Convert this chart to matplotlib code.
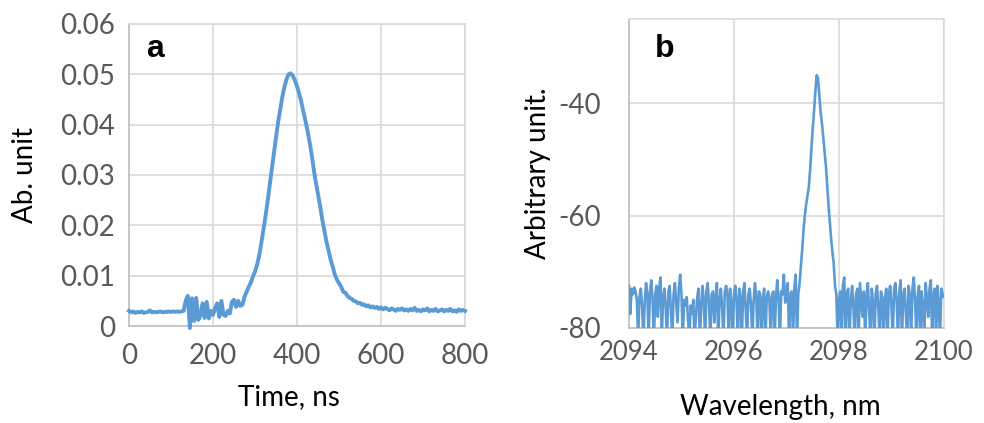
import numpy as np
import matplotlib.pyplot as plt

# panel a: time trace (ns, ab. unit), read at 5 ns steps
time_ns = list(range(0, 805, 5))
pulse = [
    0.0030, 0.0027, 0.0029, 0.0026, 0.0028, 0.0027, 0.0029, 0.0026, 0.0027, 0.0028,
    0.0031, 0.0027, 0.0028, 0.0027, 0.0028, 0.0029, 0.0027, 0.0028, 0.0028, 0.0029,
    0.0028, 0.0029, 0.0028, 0.0029, 0.0028, 0.0029, 0.0030, 0.0050, 0.0060, -0.0004,
    0.0055, 0.0010, 0.0056, 0.0012, 0.0020, 0.0045, 0.0016, 0.0048, 0.0015, 0.0030,
    0.0022, 0.0036, 0.0045, 0.0018, 0.0050, 0.0022, 0.0020, 0.0030, 0.0025, 0.0048,
    0.0052, 0.0038, 0.0050, 0.0040, 0.0042, 0.0058, 0.0068, 0.0078, 0.0086, 0.0098,
    0.0108, 0.0122, 0.0140, 0.0165, 0.0192, 0.0218, 0.0248, 0.0280, 0.0312, 0.0345,
    0.0375, 0.0405, 0.0430, 0.0455, 0.0475, 0.0490, 0.0500, 0.0502, 0.0497, 0.0488,
    0.0476, 0.0462, 0.0446, 0.0426, 0.0408, 0.0388, 0.0365, 0.0340, 0.0310, 0.0285,
    0.0262, 0.0238, 0.0212, 0.0190, 0.0168, 0.0150, 0.0132, 0.0118, 0.0102, 0.0092,
    0.0085, 0.0078, 0.0068, 0.0066, 0.0060, 0.0056, 0.0054, 0.0050, 0.0049, 0.0045,
    0.0046, 0.0042, 0.0043, 0.0039, 0.0041, 0.0037, 0.0039, 0.0036, 0.0038, 0.0034,
    0.0037, 0.0033, 0.0036, 0.0034, 0.0031, 0.0035, 0.0033, 0.0030, 0.0034, 0.0032,
    0.0035, 0.0031, 0.0033, 0.0030, 0.0034, 0.0031, 0.0036, 0.0030, 0.0032, 0.0029,
    0.0033, 0.0031, 0.0035, 0.0029, 0.0032, 0.0030, 0.0034, 0.0029, 0.0031, 0.0033,
    0.0029, 0.0032, 0.0030, 0.0034, 0.0029, 0.0031, 0.0028, 0.0033, 0.0030, 0.0032,
    0.0030,
]

# panel b: spectrum, 0.025 nm steps from 2094 to 2100
wl_start, wl_step = 2094.0, 0.025
spec_2094 = [-72.5, -77.5, -73.0, -74.0, -72.8, -73.5, -75.0, -82.0, -74.5, -73.0,
             -76.0, -82.0, -75.5, -72.0, -74.0, -82.0, -73.5, -71.5, -75.0, -82.0,
             -74.0, -72.5, -78.0, -73.0, -71.0, -82.0, -74.5, -73.0, -76.5, -82.0,
             -73.5, -72.5, -77.0, -82.0, -74.0, -72.0, -75.5, -79.0, -73.0, -70.5]
spec_2095 = [-74.0, -82.0, -75.0, -76.0, -74.5, -78.5, -82.0, -76.0, -77.5, -75.0,
             -82.0, -78.0, -74.5, -73.0, -82.0, -76.5, -72.5, -75.0, -82.0, -73.5,
             -72.0, -76.0, -82.0, -74.0, -73.5, -79.0, -74.5, -72.0, -82.0, -75.0,
             -73.0, -76.5, -82.0, -73.5, -72.5, -74.0, -82.0, -73.0, -75.5, -82.0]
spec_2096 = [-74.0, -72.5, -75.5, -82.0, -73.0, -74.5, -82.0, -73.5, -72.0, -77.0,
             -82.0, -74.0, -73.0, -76.0, -82.0, -75.0, -72.0, -74.5, -82.0, -73.5,
             -74.0, -82.0, -75.0, -73.0, -82.0, -74.5, -73.5, -75.0, -82.0, -74.0,
             -73.5, -82.0, -74.5, -71.5, -75.0, -82.0, -73.5, -74.0, -70.5, -75.5]
spec_2097 = [-73.0, -72.0, -82.0, -74.0, -73.5, -82.0, -73.0, -70.5, -82.0, -74.0,
             -72.0, -69.0, -66.0, -62.5, -60.0, -58.0, -56.5, -55.0, -52.0, -48.0,
             -44.5, -41.5, -38.0, -35.0, -35.5, -38.5, -41.5, -43.5, -46.0, -48.5,
             -51.0, -54.5, -58.0, -61.0, -64.0, -66.5, -68.5, -72.5, -74.0, -82.0]
spec_2098 = [-75.0, -73.5, -82.0, -72.5, -71.0, -82.0, -74.0, -73.0, -82.0, -75.5,
             -72.5, -76.0, -82.0, -74.0, -73.0, -82.0, -72.0, -75.0, -78.0, -73.5,
             -82.0, -74.5, -72.0, -77.0, -82.0, -73.0, -75.5, -82.0, -74.0, -72.5,
             -76.5, -82.0, -73.5, -74.5, -82.0, -75.0, -73.0, -82.0, -74.0, -72.5]
spec_2099 = [-76.0, -82.0, -73.0, -72.0, -75.5, -82.0, -73.5, -71.5, -82.0, -74.0,
             -73.0, -77.5, -82.0, -72.5, -74.0, -82.0, -73.0, -71.0, -75.0, -82.0,
             -74.5, -72.5, -82.0, -73.5, -76.0, -82.0, -72.0, -74.5, -78.0, -73.0,
             -71.5, -82.0, -74.0, -73.0, -82.0, -72.5, -75.5, -82.0, -73.0, -74.5,
             -74.0]

a_xticks = [0, 200, 400, 600, 800]
a_yticks = [0, 0.01, 0.02, 0.03, 0.04, 0.05, 0.06]
a_ylabels = ['0', '0.01', '0.02', '0.03', '0.04', '0.05', '0.06']
b_xticks = [2094, 2096, 2098, 2100]
b_yticks = [-80, -60, -40]

spectrum = spec_2094 + spec_2095 + spec_2096 + spec_2097 + spec_2098 + spec_2099
wavelength = wl_start + wl_step * np.arange(len(spectrum))

blue = '#5B9BD5'
grid_c = '#D9D9D9'
axis_c = '#BFBFBF'
tick_c = '#595959'
plt.rcParams['font.family'] = ['Lato', 'DejaVu Sans']
plt.rcParams['axes.unicode_minus'] = False

fig = plt.figure(figsize=(9.84, 4.23), dpi=100)
ax1 = fig.add_axes([0.1311, 0.2293, 0.3415, 0.7140])
ax2 = fig.add_axes([0.6392, 0.2246, 0.3201, 0.7305])


def style(ax):
    ax.grid(True, color=grid_c, lw=1.2)
    ax.set_axisbelow(True)
    for s in ['top', 'right']:
        ax.spines[s].set_color(grid_c)
        ax.spines[s].set_linewidth(1.2)
    for s in ['left', 'bottom']:
        ax.spines[s].set_color(axis_c)
        ax.spines[s].set_linewidth(1.2)
    ax.tick_params(length=0, colors=tick_c)


# panel a
ax1.plot(time_ns, pulse, color=blue, lw=2.8, clip_on=False, zorder=3)
ax1.set_xlim(0, 800)
ax1.set_ylim(0, 0.06)
ax1.set_xticks(a_xticks)
ax1.set_yticks(a_yticks)
ax1.set_yticklabels(a_ylabels)
style(ax1)
ax1.tick_params(axis='x', labelsize=20, pad=12)
ax1.tick_params(axis='y', labelsize=20, pad=10)
ax1.set_xlabel('Time, ns', fontsize=20, va='center')
ax1.xaxis.set_label_coords(0.476, -0.235)
ax1.set_ylabel('Ab. unit', fontsize=20, va='center')
ax1.yaxis.set_label_coords(-0.31, 0.5)
ax1.text(0.05, 0.89, 'a', transform=ax1.transAxes, fontsize=23,
         fontweight='bold', family='Liberation Sans', ha='left', va='baseline')

# panel b
ax2.plot(wavelength, spectrum, color=blue, lw=1.9, zorder=3)
ax2.set_xlim(2094, 2100)
ax2.set_ylim(-80, -25)
ax2.set_xticks(b_xticks)
ax2.set_yticks(b_yticks)
style(ax2)
ax2.tick_params(axis='x', labelsize=18.5, pad=9)
ax2.tick_params(axis='y', labelsize=20, pad=20)
ax2.set_xlabel('Wavelength, nm', fontsize=20, va='center')
ax2.xaxis.set_label_coords(0.479, -0.256)
ax2.set_ylabel('Arbitrary unit.', fontsize=20, va='center')
ax2.yaxis.set_label_coords(-0.289, 0.5)
ax2.text(0.0825, 0.878, 'b', transform=ax2.transAxes, fontsize=23,
         fontweight='bold', family='Liberation Sans', ha='left', va='baseline')

fig.savefig('out.png', dpi=100)
